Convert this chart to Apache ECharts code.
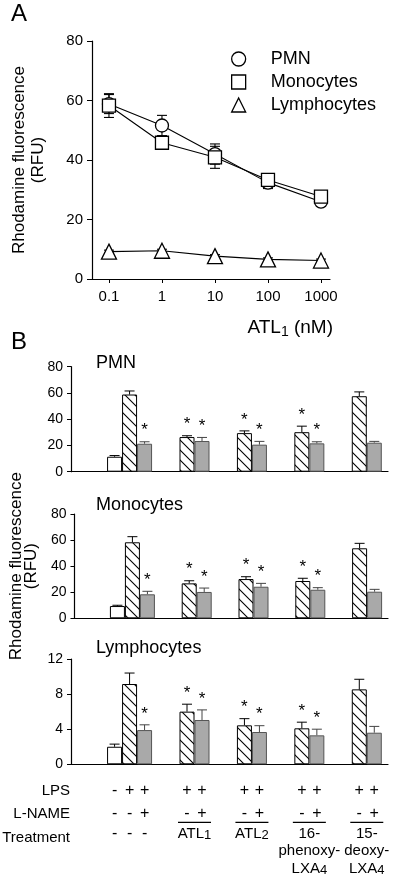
<!DOCTYPE html>
<html><head><meta charset="utf-8">
<script src="https://cdn.jsdelivr.net/npm/echarts@6/dist/echarts.min.js"></script>
<style>html,body{margin:0;padding:0;background:#fff}#c{width:400px;height:884px}</style>
</head><body><div id="c"></div>
<script>
// ---------- Panel A data ----------
const concA = [0.1, 1, 10, 100, 1000];
const concLabels = ['0.1', '1', '10', '100', '1000'];
const pmnA = [58.8, 51.6, 42.0, 32.4, 26.0];
const pmnSemA = [3.2, 3.4, 3.4, 2.0, 1.0];
const monoA = [58.3, 45.8, 40.9, 33.3, 27.7];
const monoSemA = [4.0, 2.1, 3.7, 1.0, 1.0];
const lymA = [9.2, 9.5, 7.7, 6.6, 6.2];
const lymSemA = [0.5, 0.5, 0.5, 0.5, 0.5];
const yTicksA = [0, 20, 40, 60, 80];

// ---------- Panel B data ----------
const groupsB = ['Control', 'ATL1', 'ATL2', '16-phenoxy-LXA4', '15-deoxy-LXA4'];
const pmnWhite = [11.4], pmnWhiteErr = [0.9];
const pmnHatch = [58.8, 26.4, 29.4, 30.1, 57.5], pmnHatchErr = [2.7, 1.0, 1.7, 4.6, 3.3];
const pmnGray = [21.3, 23.4, 20.6, 21.6, 22.1], pmnGrayErr = [1.5, 2.7, 2.5, 1.2, 1.0];
const monoWhite = [9.4], monoWhiteErr = [0.6];
const monoHatch = [58.3, 26.8, 30.1, 28.6, 53.7], monoHatchErr = [4.3, 2.0, 1.8, 2.1, 3.8];
const monoGray = [18.4, 20.2, 24.2, 21.9, 20.4], monoGrayErr = [2.3, 3.0, 2.6, 1.6, 1.8];
const lymWhite = [2.0], lymWhiteErr = [0.3];
const lymHatch = [9.15, 6.0, 4.44, 4.1, 8.54], lymHatchErr = [1.25, 0.85, 0.76, 0.7, 1.15];
const lymGray = [3.9, 5.05, 3.68, 3.3, 3.6], lymGrayErr = [0.6, 1.15, 0.72, 0.7, 0.72];
const starHatch = [0, 1, 1, 1, 0];
const starGray = [1, 1, 1, 1, 0];

// ---------- Table under panel B ----------
const rowNames = ['LPS', 'L-NAME', 'Treatment'];
const lpsRow = [['-', '+', '+'], ['+', '+'], ['+', '+'], ['+', '+'], ['+', '+']];
const lnameRow = [['-', '-', '+'], ['-', '+'], ['-', '+'], ['-', '+'], ['-', '+']];
const treatRow = [
  ['-', '-', '-'],
  ['{n|ATL}{s|1}'],
  ['{n|ATL}{s|2}'],
  ['{n|16-}', '{n|phenoxy-}', '{n|LXA}{s|4}'],
  ['{n|15-}', '{n|deoxy-}', '{n|LXA}{s|4}']
];

const FONT = "'Liberation Sans', Arial, Helvetica, sans-serif";
const BW = 15; // bar width px

function hatchCanvas() {
  const c = document.createElement('canvas');
  c.width = 10; c.height = 10;
  const g = c.getContext('2d');
  g.fillStyle = '#fff'; g.fillRect(0, 0, 10, 10);
  g.strokeStyle = '#000'; g.lineWidth = 1.1;
  g.beginPath();
  g.moveTo(-2, -2); g.lineTo(12, 12);
  g.moveTo(-2, 8); g.lineTo(2, 12);
  g.moveTo(8, -2); g.lineTo(12, 2);
  g.stroke();
  return c;
}
const hatch = hatchCanvas();

const chart = echarts.init(document.getElementById('c'), null, { renderer: 'canvas' });

// ----- Panel A series -----
function lineSeries(name, vals, symbol) {
  return {
    type: 'line', name, xAxisIndex: 0, yAxisIndex: 0, z: 3,
    data: vals.map((v, i) => [Math.log10(concA[i]), v]),
    symbol, symbolSize: symbol === 'triangle' ? 15 : 13,
    itemStyle: { color: '#fff', borderColor: '#000', borderWidth: 1.3 },
    lineStyle: { color: '#000', width: 1.1 },
    emphasis: { disabled: true }
  };
}
function errA(vals, sems) {
  return {
    type: 'custom', xAxisIndex: 0, yAxisIndex: 0, z: 2, silent: true,
    data: vals.map((v, i) => [Math.log10(concA[i]), v, sems[i]]),
    renderItem(params, api) {
      const x = api.value(0), v = api.value(1), e = api.value(2);
      const t = api.coord([x, v + e]), b = api.coord([x, v - e]);
      const st = { stroke: '#000', lineWidth: 1.1 };
      return { type: 'group', children: [
        { type: 'line', shape: { x1: t[0], y1: t[1], x2: b[0], y2: b[1] }, style: st },
        { type: 'line', shape: { x1: t[0] - 5, y1: t[1], x2: t[0] + 5, y2: t[1] }, style: st },
        { type: 'line', shape: { x1: b[0] - 5, y1: b[1], x2: b[0] + 5, y2: b[1] }, style: st }
      ]};
    }
  };
}

// ----- Panel B series -----
function barSeries(idx, vals, xs, kind) {
  const style = kind === 'white' ? { color: '#fff', borderColor: '#000', borderWidth: 1 }
    : kind === 'hatch' ? { color: { image: hatch, repeat: 'repeat' }, borderColor: '#000', borderWidth: 1 }
    : { color: '#a9a9a9', borderColor: '#555', borderWidth: 1 };
  return {
    type: 'bar', xAxisIndex: idx, yAxisIndex: idx, barWidth: BW, barGap: '0%',
    data: vals.map((v, i) => [xs[i], v]), itemStyle: style, silent: true, z: 2
  };
}
function errB(idx, vals, xs, errs, stars, off, color) {
  return {
    type: 'custom', xAxisIndex: idx, yAxisIndex: idx, z: 1, silent: true,
    data: vals.map((v, i) => [xs[i], v, errs[i], stars ? stars[i] : 0]),
    renderItem(params, api) {
      const x = api.value(0), v = api.value(1), e = api.value(2), s = api.value(3);
      const b = api.coord([x, v]), t = api.coord([x, v + e]);
      const cx = b[0] + off;
      const st = { stroke: color, lineWidth: 1 };
      const ch = [
        { type: 'line', shape: { x1: cx, y1: b[1], x2: cx, y2: t[1] }, style: st },
        { type: 'line', shape: { x1: cx - 5, y1: t[1], x2: cx + 5, y2: t[1] }, style: st }
      ];
      if (s) ch.push({ type: 'text', x: cx, y: t[1] - 11,
        style: { text: '*', font: '17px ' + FONT, fill: '#000', align: 'center', verticalAlign: 'middle' } });
      return { type: 'group', children: ch };
    }
  };
}
const gx = groupsB.map((g, i) => i);
function panelB(idx, w, we, h, he, g, ge) {
  return [
    barSeries(idx, w, [0], 'white'),
    barSeries(idx, h, gx, 'hatch'),
    barSeries(idx, g, gx, 'gray'),
    errB(idx, w, [0], we, null, -BW, '#000'),
    errB(idx, h, gx, he, starHatch, 0, '#000'),
    errB(idx, g, gx, ge, starGray, BW, '#444')
  ];
}

const tableSeries = {
  type: 'custom', xAxisIndex: 3, yAxisIndex: 3, clip: false, silent: true, z: 5,
  data: groupsB.map((g, i) => [i, 0]),
  renderItem(params, api) {
    const i = params.dataIndex;
    const p = api.coord([api.value(0), 0]);
    const cx = p[0], y0 = p[1];
    const offs = i === 0 ? [-BW, 0, BW] : [0, BW];
    const ch = [];
    const sym = (t, x, y) => ch.push({ type: 'text', x, y,
      style: { text: t, font: '16px ' + FONT, fill: '#000', align: 'center', verticalAlign: 'middle' } });
    offs.forEach((o, j) => {
      sym(lpsRow[i][j], cx + o, y0 + 26.5);
      sym(lnameRow[i][j], cx + o, y0 + 49);
    });
    const rich = {
      n: { fontSize: 15, fontFamily: FONT, lineHeight: 17, verticalAlign: 'middle' },
      s: { fontSize: 13, fontFamily: FONT, lineHeight: 17, verticalAlign: 'bottom', padding: [6, 0, 0, 0] }
    };
    if (i === 0) {
      offs.forEach((o, j) => sym(treatRow[i][j], cx + o, y0 + 69));
    } else {
      const mid = cx + BW / 2;
      ch.push({ type: 'line', shape: { x1: mid - BW - 1.5, y1: y0 + 58, x2: mid + BW + 1.5, y2: y0 + 58 },
        style: { stroke: '#000', lineWidth: 1.3 } });
      treatRow[i].forEach((t, k) => ch.push({ type: 'text', x: mid, y: y0 + 69.5 + k * 17.5,
        style: { text: t, rich, fill: '#000', align: 'center', verticalAlign: 'middle' } }));
    }
    return { type: 'group', children: ch };
  }
};

const axisLineStyle = { onZero: false, lineStyle: { color: '#000', width: 1.2 } };
const gridsB = [
  { left: 71, top: 366.7, width: 317, height: 105 },
  { left: 71, top: 514, width: 317, height: 104.3 },
  { left: 71, top: 659, width: 317, height: 105.3 }
];
const yMaxB = [80, 80, 12], yIntB = [20, 20, 4];

const option = {
  animation: false,
  backgroundColor: '#fff',
  textStyle: { fontFamily: FONT, color: '#000' },
  grid: [{ left: 92, top: 41, width: 238, height: 238 }].concat(gridsB),
  xAxis: [{
    type: 'value', gridIndex: 0, min: -1.32, max: 3.17,
    axisLine: axisLineStyle,
    axisTick: { show: true, inside: false, length: 4, customValues: concA.map(Math.log10), lineStyle: { color: '#000', width: 1 } },
    axisLabel: { customValues: concA.map(Math.log10), formatter: v => concLabels[concA.map(Math.log10).findIndex(c => Math.abs(c - v) < 1e-6)] || '',
      fontSize: 15, color: '#000', fontFamily: FONT, margin: 10 },
    splitLine: { show: false }
  }].concat(gridsB.map((g, k) => ({
    type: 'value', gridIndex: k + 1, min: -1.02, max: 4.5,
    axisLine: axisLineStyle, axisTick: { show: false }, axisLabel: { show: false }, splitLine: { show: false }
  }))),
  yAxis: [{
    type: 'value', gridIndex: 0, min: 0, max: 80, interval: 20,
    axisLine: { show: true, onZero: false, lineStyle: { color: '#000', width: 1.2 } },
    axisTick: { show: true, inside: false, length: 5, lineStyle: { color: '#000', width: 1 } },
    axisLabel: { fontSize: 15, color: '#000', fontFamily: FONT, margin: 9 },
    splitLine: { show: false },
    name: 'Rhodamine fluorescence\n(RFU)', nameLocation: 'middle', nameRotate: 90, nameGap: 44,
    nameTextStyle: { fontSize: 17, color: '#000', fontFamily: FONT, lineHeight: 19 }
  }].concat(gridsB.map((g, k) => ({
    type: 'value', gridIndex: k + 1, min: 0, max: yMaxB[k], interval: yIntB[k],
    axisLine: { show: true, onZero: false, lineStyle: { color: '#000', width: 1.2 } },
    axisTick: { show: true, inside: false, length: 4, lineStyle: { color: '#000', width: 1 } },
    axisLabel: { fontSize: 14, color: '#000', fontFamily: FONT, margin: 8 },
    splitLine: { show: false },
    name: k === 1 ? 'Rhodamine fluorescence\n(RFU)' : '', nameLocation: 'middle', nameRotate: 90, nameGap: 29,
    nameTextStyle: { fontSize: 17, color: '#000', fontFamily: FONT, lineHeight: 15 }
  }))),
  legend: {
    orient: 'vertical', left: 226, top: 45, itemWidth: 14, itemHeight: 14, itemGap: 5,
    textStyle: { fontSize: 18, color: '#000', fontFamily: FONT, lineHeight: 18, padding: [0, 0, 0, 20] },
    selectedMode: false,
    data: [
      { name: 'PMN', icon: 'circle', itemStyle: { color: '#fff', borderColor: '#000', borderWidth: 1.3 } },
      { name: 'Monocytes', icon: 'rect', itemStyle: { color: '#fff', borderColor: '#000', borderWidth: 1.3 } },
      { name: 'Lymphocytes', icon: 'triangle', itemStyle: { color: '#fff', borderColor: '#000', borderWidth: 1.3 } }
    ]
  },
  graphic: [
    { type: 'text', x: 11, y: 14, style: { text: 'A', font: '24px ' + FONT, fill: '#000', align: 'left', verticalAlign: 'middle' } },
    { type: 'text', x: 11, y: 342, style: { text: 'B', font: '24px ' + FONT, fill: '#000', align: 'left', verticalAlign: 'middle' } },
    { type: 'text', x: 333, y: 328, style: { text: '{n|ATL}{s|1}{n| (nM)}', fill: '#000', align: 'right', verticalAlign: 'middle',
      rich: { n: { fontSize: 19, fontFamily: FONT, lineHeight: 22, verticalAlign: 'middle' },
              s: { fontSize: 14, fontFamily: FONT, lineHeight: 22, verticalAlign: 'bottom', padding: [8, 0, 0, 0] } } } },
    { type: 'text', x: 96, y: 363, style: { text: 'PMN', font: '18px ' + FONT, fill: '#000', align: 'left', verticalAlign: 'middle' } },
    { type: 'text', x: 96, y: 505, style: { text: 'Monocytes', font: '18px ' + FONT, fill: '#000', align: 'left', verticalAlign: 'middle' } },
    { type: 'text', x: 96, y: 648, style: { text: 'Lymphocytes', font: '18px ' + FONT, fill: '#000', align: 'left', verticalAlign: 'middle' } }
  ].concat(rowNames.map((r, k) => ({ type: 'text', x: 70, y: [791, 813.5, 838][k],
    style: { text: r, font: '15px ' + FONT, fill: '#000', align: 'right', verticalAlign: 'middle' } }))),
  series: [
    errA(pmnA, pmnSemA), errA(monoA, monoSemA), errA(lymA, lymSemA),
    lineSeries('PMN', pmnA, 'circle'),
    lineSeries('Monocytes', monoA, 'rect'),
    lineSeries('Lymphocytes', lymA, 'triangle')
  ]
  .concat(panelB(1, pmnWhite, pmnWhiteErr, pmnHatch, pmnHatchErr, pmnGray, pmnGrayErr))
  .concat(panelB(2, monoWhite, monoWhiteErr, monoHatch, monoHatchErr, monoGray, monoGrayErr))
  .concat(panelB(3, lymWhite, lymWhiteErr, lymHatch, lymHatchErr, lymGray, lymGrayErr))
  .concat([tableSeries])
};
chart.setOption(option);
</script>
</body></html>
